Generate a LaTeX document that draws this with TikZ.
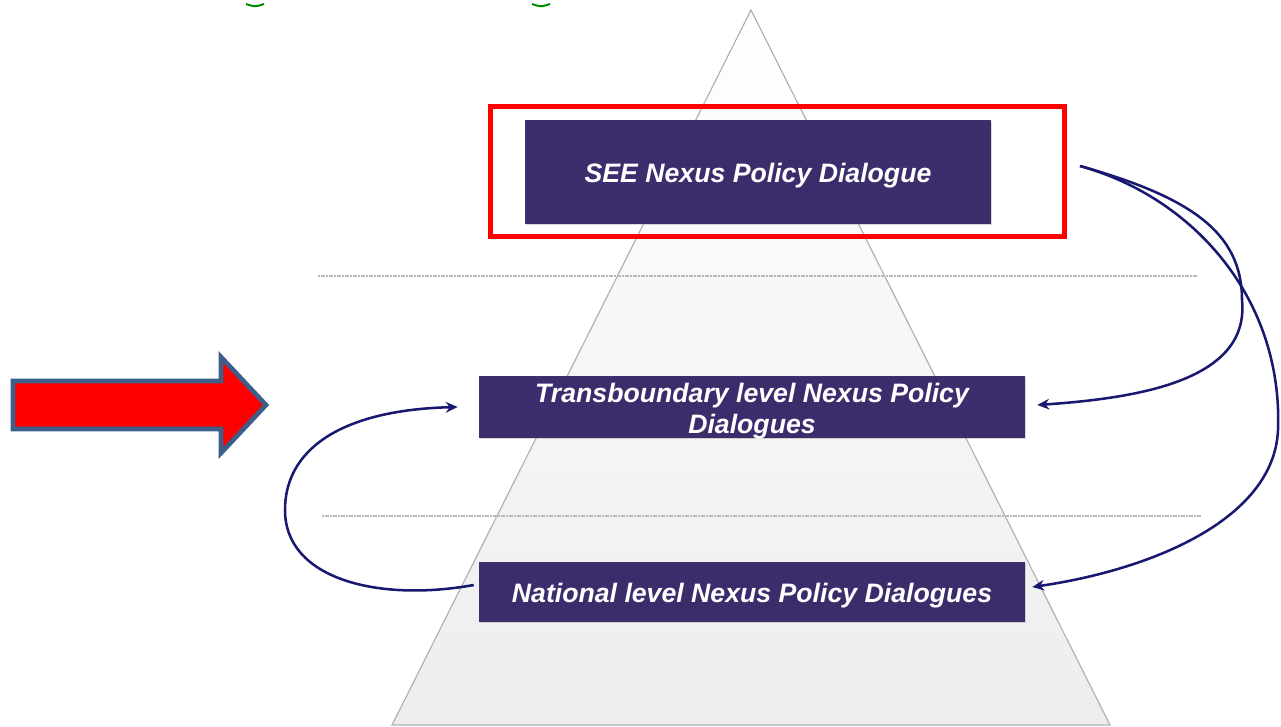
\documentclass[tikz,border=0pt]{standalone}
\usepackage{fontspec}
\setmainfont{Liberation Sans}
\usetikzlibrary{arrows.meta,shadows}
\definecolor{dialogue}{RGB}{54,38,104}
\definecolor{linkblue}{RGB}{24,24,112}
\definecolor{arrowedge}{RGB}{62,94,138}
\newcommand{\lowered}[1]{\raisebox{-3pt}[\height][\depth]{#1}}
\tikzset{
  level/.style={fill=dialogue, fill opacity=0.96, text opacity=1, text=white,
    font=\fontsize{20}{23.5}\selectfont\bfseries\itshape, align=center, inner sep=0pt,
    drop shadow={shadow xshift=1pt, shadow yshift=-1pt, opacity=0.3}},
  link/.style={draw=linkblue, line width=1.9pt, -{Stealth[length=9pt,width=8pt,inset=3pt]}},
  divider/.style={draw=gray!55, line width=1.5pt, dash pattern=on 1.5pt off 0.5pt},
}

\begin{document}
\begin{tikzpicture}[x=0.75pt,y=0.75pt,yscale=-1,xscale=1]
\useasboundingbox (0,0) rectangle (1281,727);
%Shape: Green fragments
\draw [green!55!black, line width=1.5pt] (246,4) .. controls (255,7) .. (264,4) ;
\draw [green!55!black, line width=1.5pt] (532,4) .. controls (541,7) .. (550,4) ;
%Shape: Pyramid
\shade [top color=white, bottom color=gray!14] (751,10) -- (1110,725) -- (392,725) -- cycle ;
\draw [gray!60, line width=0.9pt] (751,10) -- (1110,725) -- (392,725) -- cycle ;
%Straight Lines
\draw [divider] (318,276) -- (1197,276) ;
%Straight Lines
\draw [divider] (322,516) -- (1202,516) ;
% Text Node
\node [level, minimum width=349.5pt, minimum height=78pt] (see) at (758,172) {\lowered{SEE Nexus Policy Dialogue}};
% Text Node
\node [level, minimum width=409.5pt, minimum height=46.5pt] (trans) at (752,407) {\lowered{\shortstack{Transboundary level Nexus Policy\\[2pt]Dialogues}}};
% Text Node
\node [level, minimum width=409.5pt, minimum height=45pt] (natl) at (752,592) {\lowered{National level Nexus Policy Dialogues}};
%Shape: Rectangle
\node [draw=red, line width=3.75pt, minimum width=430.5pt, minimum height=97.5pt, inner sep=0pt] (focus) at (777.5,171.5) {};
%Shape: Block Arrow
\draw [fill=red, draw=arrowedge, line width=3.5pt, miter limit=4] (13,381) -- (221,381) -- (221,357) -- (266,405) -- (221,453) -- (221,429) -- (13,429) -- cycle ;
%Curve Lines
\coordinate (src) at (1080,166);
\draw [link] (src) .. controls (1190,197) and (1242,232) .. (1242,300) .. controls (1250,380) and (1140,398) .. ([xshift=9pt,yshift=-1.5pt]trans.east) ;
%Curve Lines
\draw [link] (src) .. controls (1195,198) and (1283,300) .. (1278,430) .. controls (1274,520) and (1150,570) .. ([xshift=5.25pt,yshift=-3.75pt]natl.east) ;
%Curve Lines
\draw [link] ([xshift=-3.75pt,yshift=-5.25pt]natl.west) .. controls (380,602) and (285,580) .. (285,510) .. controls (285,450) and (340,410) .. ([xshift=-15.75pt]trans.west) ;
\end{tikzpicture}
\end{document}
